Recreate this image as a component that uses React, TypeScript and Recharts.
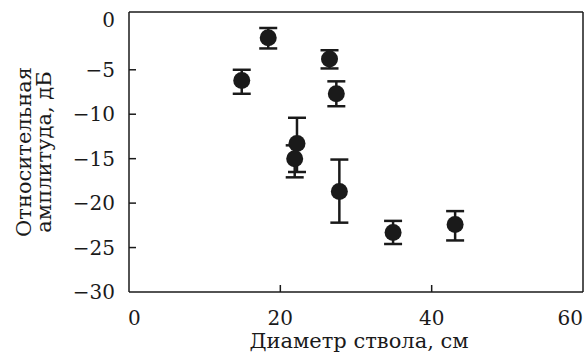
import { ErrorBar, ReferenceLine, Scatter, ScatterChart, XAxis, YAxis } from "recharts";

// diameter of trunk, cm
const diameters = [14.9, 18.4, 26.5, 27.4, 22.2, 21.9, 27.8, 34.9, 43.1];
// relative amplitude, dB
const amplitudes = [-6.2, -1.4, -3.8, -7.7, -13.3, -15.0, -18.7, -23.3, -22.4];
// error bar ends, dB
const upperEnds = [-5.0, -0.3, -2.8, -6.3, -10.4, -13.5, -15.1, -22.0, -20.9];
const lowerEnds = [-7.7, -2.6, -4.85, -9.1, -16.5, -17.1, -22.2, -24.6, -24.2];

const xTicks = [0, 20, 40, 60];
const yTicks = [0, -5, -10, -15, -20, -25, -30];

const data = diameters.map((d, i) => ({
  d,
  a: amplitudes[i],
  err: [amplitudes[i] - lowerEnds[i], upperEnds[i] - amplitudes[i]],
}));

const FONT = "'DejaVu Serif', serif";
const INK = "#1a1a1a";

function YTick(props: any) {
  const { x, y, payload } = props;
  const v = payload.value;
  const edge = v === 0 || v === -30;
  return (
    <g>
      {!edge && <line x1={x} y1={y} x2={x + 7} y2={y} stroke={INK} strokeWidth={1.5} />}
      <text
        x={x - 14}
        y={v === 0 ? y - 5 : y}
        textAnchor="end"
        dominantBaseline="central"
        fontFamily={FONT}
        fontSize={20}
        fill={INK}
      >
        {v < 0 ? `\u2212${Math.abs(v)}` : v}
      </text>
    </g>
  );
}

function XTick(props: any) {
  const { x, y, payload, index } = props;
  const v = payload.value;
  const first = index === 0;
  const last = index === xTicks.length - 1;
  return (
    <g>
      {!first && !last && <line x1={x} y1={y} x2={x} y2={y - 7} stroke={INK} strokeWidth={1.5} />}
      <text
        x={first ? x - 1 : x}
        y={y + 26}
        textAnchor={first ? "start" : last ? "end" : "middle"}
        dominantBaseline="central"
        fontFamily={FONT}
        fontSize={20}
        fill={INK}
      >
        {v}
      </text>
    </g>
  );
}

function YLabel(props: any) {
  const { viewBox } = props;
  const cy = viewBox.y + viewBox.height / 2;
  return (
    <g fontFamily={FONT} fontSize={21} fill={INK} textAnchor="middle">
      <text x={31} y={cy} transform={`rotate(-90 31 ${cy})`}>
        Относительная
      </text>
      <text x={51} y={cy} transform={`rotate(-90 51 ${cy})`}>
        амплитуда, дБ
      </text>
    </g>
  );
}

function XLabel(props: any) {
  const { viewBox } = props;
  return (
    <text
      x={viewBox.x + viewBox.width / 2 + 3}
      y={348}
      textAnchor="middle"
      fontFamily={FONT}
      fontSize={21}
      fill={INK}
    >
      Диаметр ствола, см
    </text>
  );
}

function Dot(props: any) {
  return <circle cx={props.cx} cy={props.cy} r={8.5} fill={INK} />;
}

export default function App() {
  return (
    <div style={{ position: "absolute", left: 0, top: 0, background: "#fff" }}>
      <ScatterChart width={586} height={359} margin={{ top: 12, right: 3, left: 0, bottom: 37 }}>
        <XAxis
          type="number"
          dataKey="d"
          domain={[0, 60]}
          ticks={xTicks}
          interval={0}
          tickSize={0}
          tickMargin={0}
          height={30}
          axisLine={{ stroke: INK, strokeWidth: 1.5 }}
          tickLine={false}
          tick={<XTick />}
          label={<XLabel />}
        />
        <YAxis
          type="number"
          dataKey="a"
          domain={[-30, 1.5]}
          allowDataOverflow
          ticks={yTicks}
          interval={0}
          tickSize={0}
          tickMargin={0}
          width={129}
          axisLine={{ stroke: INK, strokeWidth: 1.5 }}
          tickLine={false}
          tick={<YTick />}
          label={<YLabel />}
        />
        <ReferenceLine y={1.5} stroke={INK} strokeWidth={1.5} />
        <ReferenceLine x={60} stroke={INK} strokeWidth={1.5} />
        <Scatter data={data} shape={<Dot />} isAnimationActive={false}>
          <ErrorBar dataKey="err" direction="y" width={9} stroke={INK} strokeWidth={2.5} />
        </Scatter>
      </ScatterChart>
    </div>
  );
}
